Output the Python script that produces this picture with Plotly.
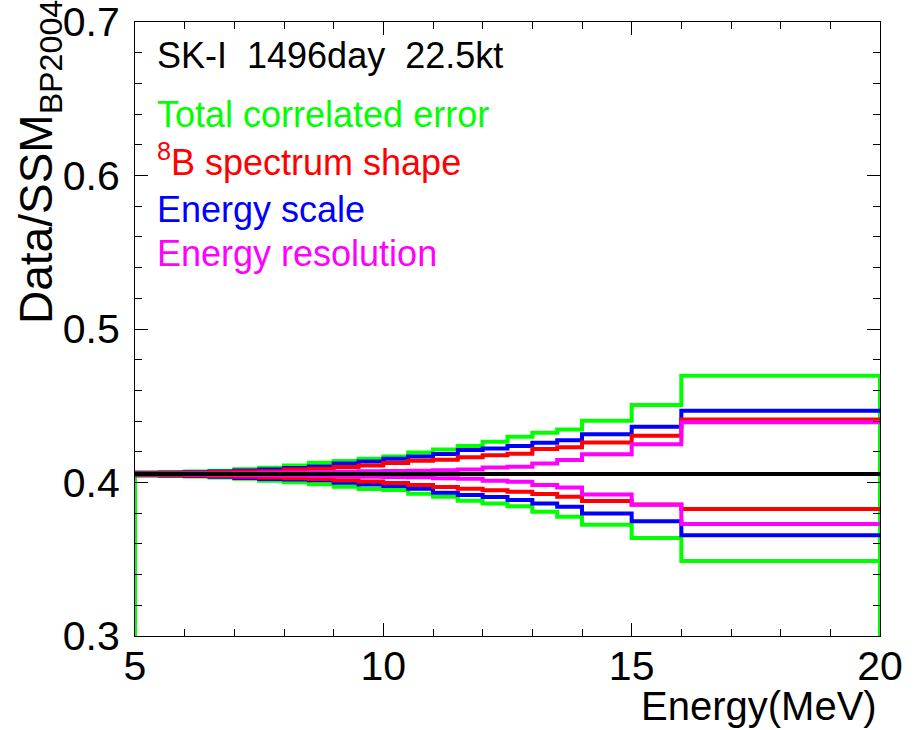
import plotly.graph_objects as go

# Energy bin edges (MeV)
bin_edges = [5.0, 5.5, 6.0, 6.5, 7.0, 7.5, 8.0, 8.5, 9.0, 9.5, 10.0, 10.5,
             11.0, 11.5, 12.0, 12.5, 13.0, 13.5, 14.0, 15.0, 16.0, 20.0]

# Central Data/SSM value
central_value = 0.4055

# Upper / lower bands per bin for each systematic
total_up = [0.4065, 0.4067, 0.4071, 0.4077, 0.4086, 0.4096, 0.4111, 0.4129, 0.4140, 0.4155,
            0.4170, 0.4196, 0.4215, 0.4237, 0.4265, 0.4298, 0.4324, 0.4346, 0.4403, 0.4505, 0.4696]
total_dn = [0.4045, 0.4043, 0.4039, 0.4032, 0.4024, 0.4012, 0.4001, 0.3988, 0.3973, 0.3957,
            0.3951, 0.3927, 0.3907, 0.3881, 0.3864, 0.3845, 0.3810, 0.3777, 0.3725, 0.3638, 0.3489]

scale_up = [0.4063, 0.4065, 0.4067, 0.4071, 0.4078, 0.4085, 0.4095, 0.4105, 0.4123, 0.4137,
            0.4155, 0.4170, 0.4185, 0.4211, 0.4222, 0.4237, 0.4259, 0.4276, 0.4315, 0.4364, 0.4468]
scale_dn = [0.4047, 0.4045, 0.4042, 0.4037, 0.4030, 0.4023, 0.4019, 0.4014, 0.3999, 0.3987,
            0.3977, 0.3960, 0.3933, 0.3918, 0.3905, 0.3886, 0.3864, 0.3842, 0.3798, 0.3747, 0.3657]

shape_up = [0.4061, 0.4062, 0.4064, 0.4067, 0.4071, 0.4074, 0.4085, 0.4090, 0.4101, 0.4111,
            0.4127, 0.4142, 0.4148, 0.4164, 0.4177, 0.4187, 0.4218, 0.4229, 0.4260, 0.4305, 0.4411]
shape_dn = [0.4049, 0.4048, 0.4046, 0.4043, 0.4037, 0.4033, 0.4027, 0.4022, 0.4014, 0.4007,
            0.3996, 0.3983, 0.3970, 0.3960, 0.3949, 0.3940, 0.3925, 0.3907, 0.3880, 0.3857, 0.3827]

reso_up = [0.4057, 0.4057, 0.4058, 0.4059, 0.4061, 0.4063, 0.4065, 0.4066, 0.4070, 0.4073,
           0.4075, 0.4076, 0.4079, 0.4085, 0.4098, 0.4103, 0.4124, 0.4146, 0.4184, 0.4249, 0.4392]
reso_dn = [0.4053, 0.4053, 0.4052, 0.4051, 0.4049, 0.4047, 0.4045, 0.4043, 0.4040, 0.4037,
           0.4036, 0.4034, 0.4027, 0.4025, 0.4012, 0.4005, 0.3983, 0.3968, 0.3922, 0.3855, 0.3730]

# Axis ticks
x_ticks = [5, 10, 15, 20]
y_ticks = [0.3, 0.4, 0.5, 0.6, 0.7]

GREEN = "#00ff00"
RED = "#ff0000"
BLUE = "#0000ff"
MAGENTA = "#ff00ff"
FONT = "Liberation Sans, Arial, sans-serif"


def step_xy(values, drop_to=None):
    """Histogram outline: one point per lower edge plus the last upper edge."""
    xs = list(bin_edges)
    ys = list(values) + [values[-1]]
    if drop_to is not None:
        xs = [bin_edges[0]] + xs + [bin_edges[-1]]
        ys = [drop_to] + ys + [drop_to]
    return xs, ys


fig = go.Figure()


def add_hist(values, color, drop_to=None):
    xs, ys = step_xy(values, drop_to)
    fig.add_trace(go.Scatter(x=xs, y=ys, mode="lines", line_shape="hv",
                             line=dict(color=color, width=4),
                             hoverinfo="skip", showlegend=False))


# green total band drawn as histograms down to zero
add_hist(total_up, GREEN, drop_to=0.0)
add_hist(total_dn, GREEN, drop_to=0.0)
add_hist(scale_up, BLUE)
add_hist(scale_dn, BLUE)
add_hist(shape_up, RED)
add_hist(shape_dn, RED)
add_hist(reso_up, MAGENTA)
add_hist(reso_dn, MAGENTA)
add_hist([central_value] * (len(bin_edges) - 1), "#000000")

axis_common = dict(
    showline=True, linecolor="#000000", linewidth=1, mirror="allticks",
    ticks="inside", ticklen=13, tickwidth=1, tickcolor="#000000",
    showgrid=False, zeroline=False, ticklabeloverflow="allow", automargin=False,
    tickfont=dict(family=FONT, size=41, color="#000000"),
)

fig.update_xaxes(range=[x_ticks[0], x_ticks[-1]], tickvals=x_ticks,
                 minor=dict(dtick=1, ticks="inside", ticklen=7, tickcolor="#000000", showgrid=False),
                 ticklabelstandoff=-6, **axis_common)
fig.update_yaxes(range=[y_ticks[0], y_ticks[-1]], tickvals=y_ticks, tickformat=".1f",
                 minor=dict(dtick=0.02, ticks="inside", ticklen=7, tickcolor="#000000", showgrid=False),
                 ticklabelstandoff=6, **axis_common)

W, H = 915, 730
L, R, T, B = 135, 35, 22, 94
pw, ph = W - L - R, H - T - B


def px(xp):
    return (xp - L) / pw


def py(yp):
    return (H - B - yp) / ph


annotations = [
    dict(text="SK-I  1496day  22.5kt", x=px(155), y=py(55), color="#000000"),
    dict(text="Total correlated error", x=px(155), y=py(115), color=GREEN),
    dict(text="<sup>8</sup>B spectrum shape", x=px(155), y=py(160), color=RED),
    dict(text="Energy scale", x=px(155), y=py(209), color=BLUE),
    dict(text="Energy resolution", x=px(155), y=py(254), color=MAGENTA),
]
for a in annotations:
    fig.add_annotation(text=a["text"], x=a["x"], y=a["y"], xref="paper", yref="paper",
                       xanchor="left", yanchor="middle", showarrow=False,
                       font=dict(family=FONT, size=36, color=a["color"]))

# axis titles, aligned to the far ends of the axes
fig.add_annotation(text="Energy(MeV)", x=px(879), y=py(706), xref="paper", yref="paper",
                   xanchor="right", yanchor="middle", showarrow=False,
                   font=dict(family=FONT, size=40, color="#000000"))
fig.add_annotation(text="Data/SSM<sub>BP2004</sub>", x=px(39), y=py(-2), xref="paper", yref="paper",
                   xanchor="center", yanchor="top", textangle=-90, showarrow=False,
                   font=dict(family=FONT, size=46, color="#000000"))

fig.update_layout(
    width=W, height=H,
    margin=dict(l=L, r=R, t=T, b=B, autoexpand=False),
    paper_bgcolor="#ffffff", plot_bgcolor="#ffffff",
    showlegend=False,
)

fig.write_html("out.html")
